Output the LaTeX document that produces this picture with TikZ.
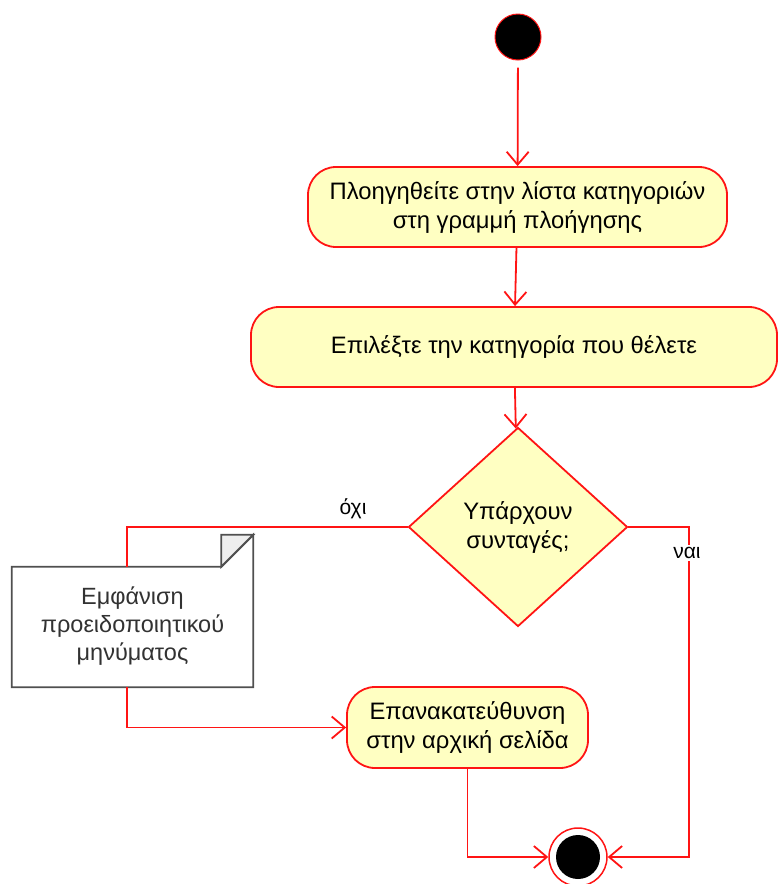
\documentclass[tikz,border=0pt]{standalone}
\usepackage{fontspec}
\setmainfont{Liberation Sans}
\usetikzlibrary{arrows.meta,shapes.geometric}
\definecolor{flowred}{RGB}{255,20,20}
\definecolor{actfill}{RGB}{255,255,194}
\definecolor{notegray}{RGB}{80,80,80}
\definecolor{foldgray}{RGB}{238,238,238}
\definecolor{notetext}{RGB}{50,50,50}
\tikzset{
  flow/.style={draw=flowred, line width=1.8pt},
  arr/.style={flow, -{Straight Barb[length=13pt,width=22pt,line width=1.8pt]}},
  activity/.style={flow, fill=actfill, rounded corners=28pt, inner sep=0pt,
    align=center, font=\fontsize{23.8}{29}\selectfont},
  decision/.style={flow, fill=actfill, diamond, inner sep=0pt,
    align=center, font=\fontsize{23.8}{29}\selectfont},
  guard/.style={font=\fontsize{21}{24}\selectfont, inner sep=2pt},
}
\begin{document}
\begin{tikzpicture}[x=1pt,y=-1pt]
\useasboundingbox (0,0) rectangle (777,884);

% initial state
\node (start) [circle, draw=flowred, line width=1pt, fill=black, minimum size=46pt, inner sep=0pt] at (518,37) {};

% activities and decision
\node (act1) [activity, minimum width=419pt, minimum height=80pt] at (517.5,207)
  {Πλοηγηθείτε στην λίστα κατηγοριών\\στη γραμμή πλοήγησης};
\node (act2) [activity, minimum width=526pt, minimum height=80pt] at (514,347)
  {Επιλέξτε την κατηγορία που θέλετε};
\node (dec) [decision, minimum width=219pt, minimum height=199pt] at (518,527)
  {Υπάρχουν\\συνταγές;};
\node (act3) [activity, minimum width=241pt, minimum height=81pt] at (467.5,727.5)
  {Επανακατεύθυνση\\στην αρχική σελίδα};

% note with folded corner
\node (note) [minimum width=241pt, minimum height=120pt, inner sep=0pt] at (132.5,627) {};
\draw[draw=notegray, line width=1.8pt, fill=white]
  (note.north west) -- ([xshift=-32pt]note.north east) -- ([yshift=32pt]note.north east)
  -- (note.south east) -- (note.south west) -- cycle;
\draw[draw=notegray, line width=1.8pt, fill=foldgray]
  ([xshift=-32pt]note.north east) -- ([xshift=-32pt,yshift=32pt]note.north east)
  -- ([yshift=32pt]note.north east) -- cycle;
\node (notetxt) at ([yshift=1pt]note) [align=center, font=\fontsize{23.5}{28}\selectfont, text=notetext]
  {Εμφάνιση\\προειδοποιητικού\\μηνύματος};

% final state
\node (fin) [circle, draw=flowred, line width=1.5pt, fill=white, minimum size=58pt, inner sep=0pt] at (578,857) {};
\node (finin) [circle, fill=black, minimum size=44pt, inner sep=0pt] at (fin) {};

% flows
\coordinate (noteTop) at ([xshift=-5.5pt]note.north);
\coordinate (noteBot) at ([xshift=-5.5pt]note.south);
\coordinate (yesCorner) at (689,527);

\draw[arr, shorten <=7pt] (start) -- (act1);
\draw[arr] (act1) -- (act2);
\draw[arr] (act2) -- (dec);
\draw[flow] (dec.west) -| (noteTop);
\draw[arr] (noteBot) |- (act3.west);
\draw[arr] (act3.south) |- (fin.west);
\draw[arr] (dec.east) -- (yesCorner) |- (fin.east);

% guards
\node (no) [guard] at (353,509) {όχι};
\node (yes) [guard, fill=white] at (687,553) {ναι};
\end{tikzpicture}
\end{document}
